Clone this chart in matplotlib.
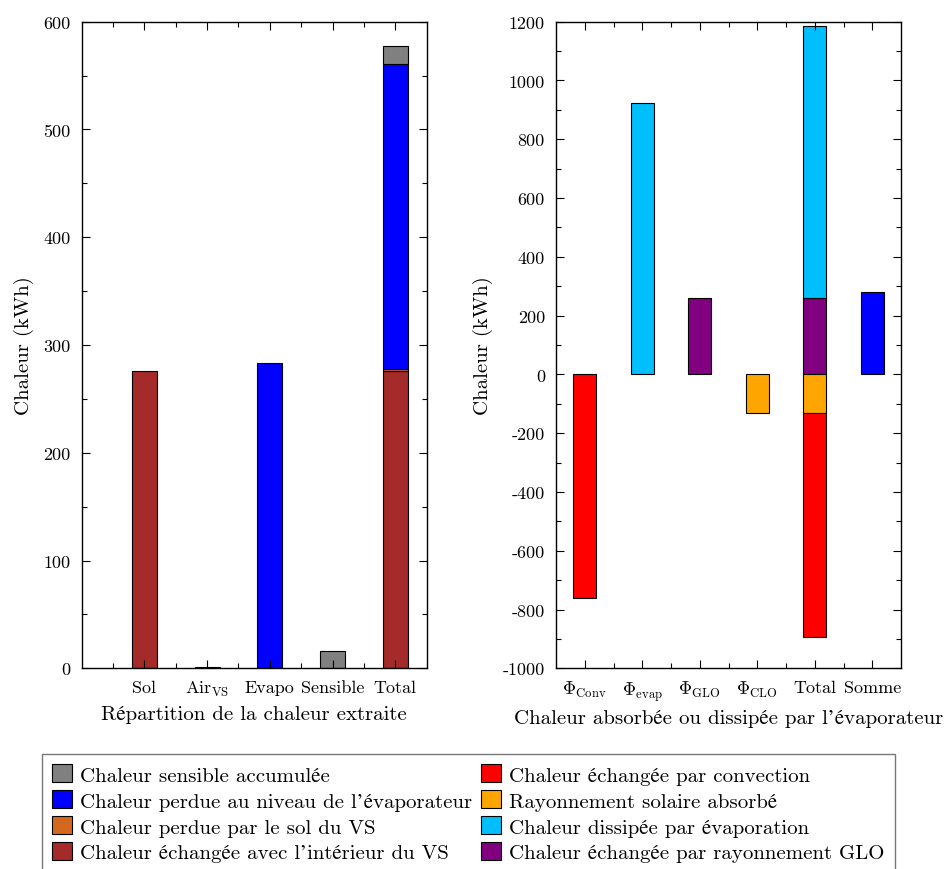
import matplotlib
matplotlib.use('Agg')
import matplotlib.pyplot as plt
from matplotlib.patches import Patch
from matplotlib.ticker import MultipleLocator, FixedLocator, FuncFormatter

# police type LaTeX (Computer Modern) avec repli pour les accents
plt.rcParams['font.family'] = ['cmr10', 'STIXGeneral']
plt.rcParams['mathtext.fontset'] = 'cm'
plt.rcParams['axes.unicode_minus'] = False

# données graphe de gauche (kWh)
cat_gauche = ['Sol', r'Air$_\mathrm{VS}$', 'Evapo', 'Sensible', 'Total']
q_sol = 276.0        # échangée avec l'intérieur du VS
q_air_vs = 1.5       # perdue par le sol du VS
q_evapo = 283.0      # perdue au niveau de l'évaporateur
q_sensible = 16.5    # sensible accumulée

# données graphe de droite (kWh)
cat_droite = [r'$\Phi_\mathrm{Conv}$', r'$\Phi_\mathrm{evap}$', r'$\Phi_\mathrm{GLO}$',
              r'$\Phi_\mathrm{CLO}$', 'Total', 'Somme']
phi_conv = -762.0
phi_evap = 925.0
phi_glo = 261.0
phi_clo = -132.0
somme = 281.0

c_sens = '#808080'
c_evapo = '#0000ff'
c_solvs = '#d2691e'
c_int = '#a52a2a'
c_conv = '#ff0000'
c_clo = '#ffa500'
c_evap = '#00bfff'
c_glo = '#800080'

largeur = 0.4
kw = dict(width=largeur, edgecolor='black', linewidth=0.8)

fig = plt.figure(figsize=(9.44, 8.7), dpi=100)
ax1 = fig.add_axes([0.0865, 0.2307, 0.3655, 0.7432])
ax2 = fig.add_axes([0.589, 0.2307, 0.3655, 0.7432])

# gauche
ax1.bar(1, q_sol, color=c_int, **kw)
ax1.bar(2, q_air_vs, color=c_solvs, **kw)
ax1.bar(3, q_evapo, color=c_evapo, **kw)
ax1.bar(4, q_sensible, color=c_sens, **kw)
bas = 0
for v, c in [(q_sol, c_int), (q_air_vs, c_solvs), (q_evapo, c_evapo), (q_sensible, c_sens)]:
    ax1.bar(5, v, bottom=bas, color=c, **kw)
    bas += v

ax1.set_xlim(0, 5.5)
ax1.set_ylim(0, 600)
ax1.set_xticks(range(1, 6))
ax1.set_xticklabels(cat_gauche)
ax1.xaxis.set_minor_locator(FixedLocator([0.5, 1.5, 2.5, 3.5, 4.5]))
ax1.yaxis.set_major_locator(MultipleLocator(100))
ax1.yaxis.set_minor_locator(MultipleLocator(50))
ax1.set_xlabel('Répartition de la chaleur extraite', fontsize=15, labelpad=5)
ax1.set_ylabel('Chaleur (kWh)', fontsize=15, labelpad=7)

# droite
ax2.bar(1, phi_conv, color=c_conv, **kw)
ax2.bar(2, phi_evap, color=c_evap, **kw)
ax2.bar(3, phi_glo, color=c_glo, **kw)
ax2.bar(4, phi_clo, color=c_clo, **kw)
ax2.bar(5, phi_glo, color=c_glo, **kw)
ax2.bar(5, phi_evap, bottom=phi_glo, color=c_evap, **kw)
ax2.bar(5, phi_clo, color=c_clo, **kw)
ax2.bar(5, phi_conv, bottom=phi_clo, color=c_conv, **kw)
ax2.bar(6, somme, color=c_evapo, **kw)

ax2.set_xlim(0.5, 6.5)
ax2.set_ylim(-1000, 1200)
ax2.set_xticks(range(1, 7))
ax2.set_xticklabels(cat_droite)
ax2.xaxis.set_minor_locator(FixedLocator([1.5, 2.5, 3.5, 4.5, 5.5]))
ax2.yaxis.set_major_locator(MultipleLocator(200))
ax2.yaxis.set_minor_locator(MultipleLocator(100))
ax2.set_xlabel('Chaleur absorbée ou dissipée par l\u2019évaporateur', fontsize=15, labelpad=4)
ax2.set_ylabel('Chaleur (kWh)', fontsize=15, labelpad=7)

for ax in (ax1, ax2):
    ax.yaxis.set_major_formatter(FuncFormatter(lambda v, p: '%d' % v))
    ax.tick_params(which='both', direction='in', top=True, right=True, labelsize=13)
    ax.tick_params(which='major', length=6, width=0.8, pad=8)
    ax.tick_params(which='minor', length=3.5, width=0.8)
    for s in ax.spines.values():
        s.set_linewidth(1.0)

# légende commune
labels = ['Chaleur sensible accumulée',
          'Chaleur perdue au niveau de l\u2019évaporateur',
          'Chaleur perdue par le sol du VS',
          'Chaleur échangée avec l\u2019intérieur du VS',
          'Chaleur échangée par convection',
          'Rayonnement solaire absorbé',
          'Chaleur dissipée par évaporation',
          'Chaleur échangée par rayonnement GLO']
couleurs = [c_sens, c_evapo, c_solvs, c_int, c_conv, c_clo, c_evap, c_glo]
poignees = [Patch(facecolor=c, edgecolor='black', linewidth=0.8) for c in couleurs]
leg = fig.legend(poignees, labels, ncol=2, loc='upper left',
                 bbox_to_anchor=(0.0442, 0.1322),
                 borderaxespad=0, fontsize=15, frameon=True, fancybox=False,
                 handlelength=0.95, handleheight=0.95, handletextpad=0.4,
                 labelspacing=0.28, borderpad=0.5, columnspacing=0.4)
leg.get_frame().set_edgecolor('#555555')
leg.get_frame().set_linewidth(1.0)

fig.savefig('out.png', dpi=100)
